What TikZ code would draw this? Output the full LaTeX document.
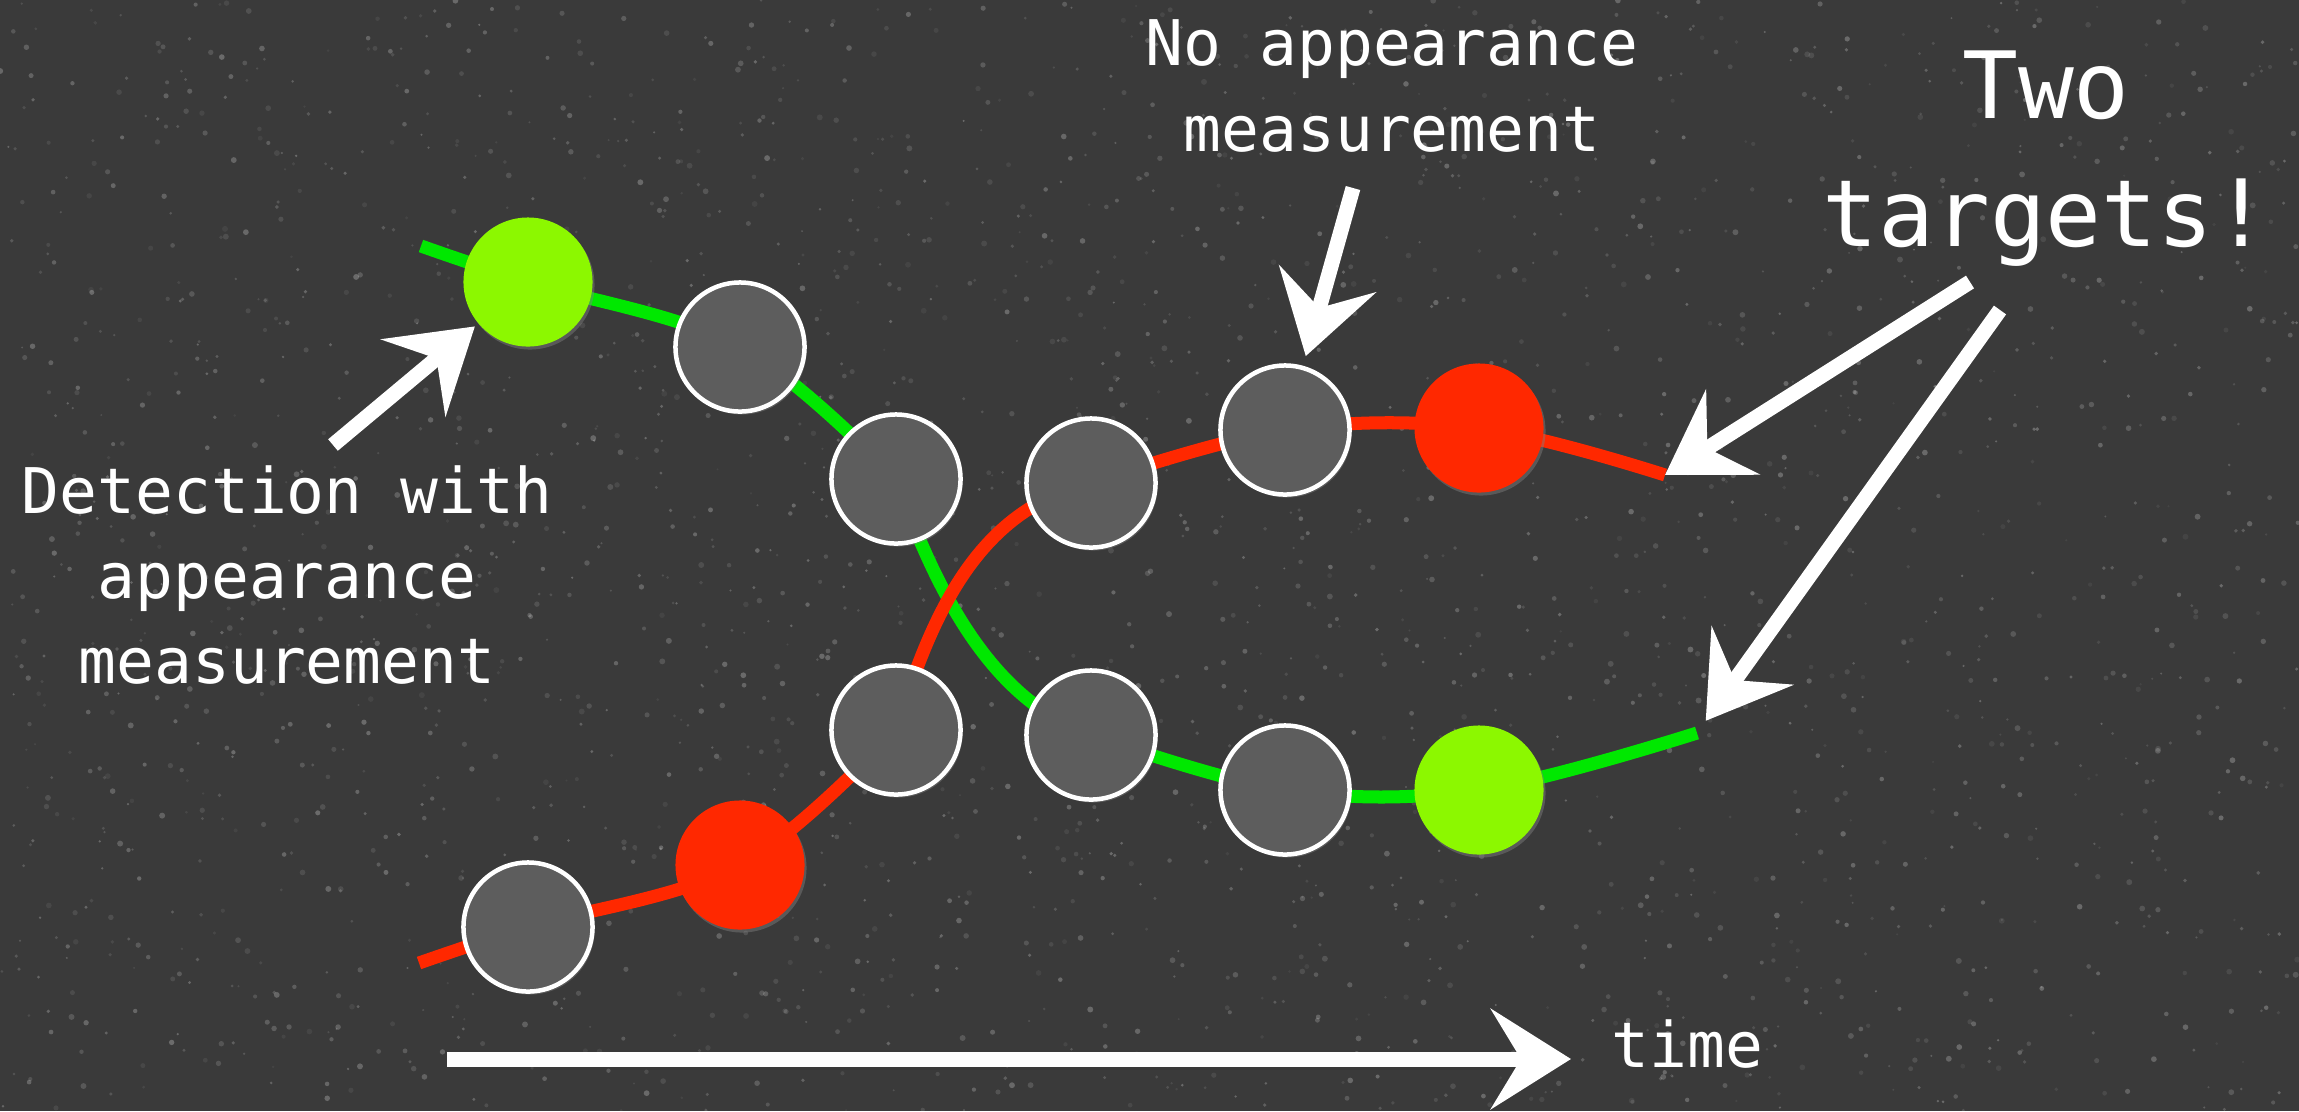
\documentclass[tikz,border=0pt]{standalone}
\usepackage{fontspec}
\newfontfamily\chalkfont{DejaVu Sans Mono}
\usetikzlibrary{arrows.meta,shadows}

\definecolor{board}{RGB}{58,58,58}
\definecolor{stone}{RGB}{93,93,93}
\definecolor{lime}{RGB}{140,248,0}
\definecolor{trackgreen}{RGB}{0,232,0}
\definecolor{trackred}{RGB}{255,40,0}

\pgfdeclarelayer{boardlayer}
\pgfdeclarelayer{tracklayer}
\pgfsetlayers{boardlayer,tracklayer,main}

\tikzset{
  obs/.style={circle, minimum size=1.29cm, inner sep=0pt,
    drop shadow={shadow xshift=0.02cm, shadow yshift=-0.03cm, opacity=0.45}},
  emptyobs/.style={obs, fill=stone, draw=white, line width=0.045cm},
  greenobs/.style={obs, fill=lime},
  redobs/.style={obs, fill=trackred},
  track/.style={line width=0.13cm, smooth, tension=0.6},
  chalk/.style={draw=white, line width=0.15cm,
    -{Stealth[length=0.8cm, width=1.0cm, inset=0.3cm]}},
  label/.style={text=white, align=center, inner sep=2pt,
    font=\chalkfont\fontsize{17.9pt}{24.2pt}\selectfont},
  biglabel/.style={label, font=\chalkfont\fontsize{26.4pt}{36.4pt}\selectfont}
}

\begin{document}
\begin{tikzpicture}[x=0.01cm, y=-0.01cm]
\useasboundingbox (0,0) rectangle (2299,1111);

% chalkboard with fine grain
\begin{pgfonlayer}{boardlayer}
  \fill[board] (0,0) rectangle (2299,1111);
  \pgfmathsetseed{11}
  \foreach \i in {1,...,2600} {
    \pgfmathsetmacro\sx{rnd*2299}
    \pgfmathsetmacro\sy{rnd*1111}
    \pgfmathsetmacro\so{0.05+0.2*rnd}
    \pgfmathsetmacro\sr{0.3+0.55*rnd}
    \fill[white, opacity=\so] (\sx,\sy) circle (\sr pt);
  }
\end{pgfonlayer}

% observations, first target
\node[greenobs] (n11) at (528,282) {};
\node[emptyobs] (n21) at (740,347) {};
\node[emptyobs] (n31) at (896,479) {};
\node[emptyobs] (n41) at (1091,735) {};
\node[emptyobs] (n51) at (1285,790) {};
\node[greenobs] (n61) at (1479,790) {};

% observations, second target
\node[emptyobs] (m1) at (528,927) {};
\node[redobs]   (m2) at (740,865) {};
\node[emptyobs] (m3) at (896,730) {};
\node[emptyobs] (m4) at (1091,483) {};
\node[emptyobs] (m5) at (1285,430) {};
\node[redobs]   (m6) at (1479,428) {};

% loose ends of the two tracks
\coordinate (gS) at (421,246);
\coordinate (gE) at (1697,733);
\coordinate (rS) at (419,963);
\coordinate (rE) at (1665,475);

% tracks; the two cross between the third and fourth time steps
\begin{pgfonlayer}{tracklayer}
  \draw[track, trackgreen] plot coordinates {(gS) (n11.center) (n21.center) (n31.center)};
  \draw[track, trackgreen] (n31.center) .. controls +(40,111) and +(-101,-35) .. (n41.center);
  \draw[track, trackgreen] plot coordinates {(n41.center) (n51.center) (n61.center) (gE)};
  \draw[track, trackred] plot coordinates {(rS) (m1.center) (m2.center) (m3.center)};
  \draw[track, trackred] (m3.center) .. controls +(34,-110) and +(-116,27) .. (m4.center);
  \draw[track, trackred] plot coordinates {(m4.center) (m5.center) (m6.center) (rE)};
\end{pgfonlayer}

% labels
\node[label] (det) at (287,575) {Detection with\\appearance\\measurement};
\node[label] (noapp) at (1392,86) {No appearance\\measurement};
\node[biglabel] (two) at (2046,159) {Two\\targets!};
\node[label, anchor=base west] (time) at (1604,1067) {time};

% chalk arrows
\coordinate (pL) at (333,445);
\coordinate (pT) at (1353,188);
\coordinate (pA) at (1970,282);
\coordinate (pB) at (2000,310);
\coordinate (tS) at (447,1059);

\draw[chalk, shorten >=0.04cm] (pL) -- (n11);
\draw[chalk, shorten >=0.1cm] (pT) -- (m5);
\draw[chalk] (pA) -- (rE);
\draw[chalk, shorten >=0.15cm] (pB) -- (gE);
\draw[chalk, shorten >=0.33cm] (tS) -- (tS -| time.west);
\end{tikzpicture}
\end{document}
